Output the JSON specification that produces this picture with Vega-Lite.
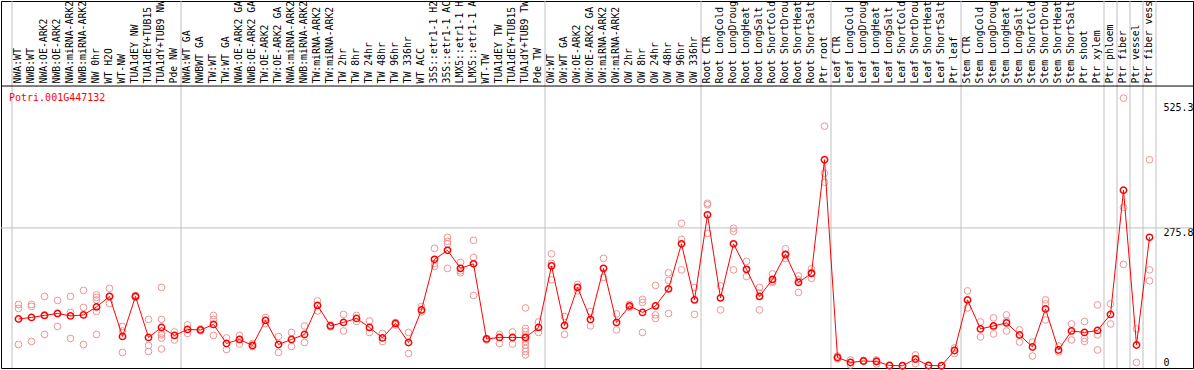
{
"$schema":"https://vega.github.io/schema/vega-lite/v6.json",
"width":1192,"height":367,
"autosize":{"type":"none"},
"padding":{"left":1,"top":1,"right":1,"bottom":2},
"background":"white",
"config":{"view":{"stroke":"#000000","strokeWidth":1},"font":"DejaVu Sans Mono"},
"datasets":{
"means":[
{"k":"NWA:WT","v":94},{"k":"NWB:WT","v":97},{"k":"NWA:OE-ARK2","v":101},{"k":"NWB:OE-ARK2","v":105},{"k":"NWA:miRNA-ARK2","v":100},{"k":"NWB:miRNA-ARK2","v":102},{"k":"NW 0hr","v":118},{"k":"WT H2O","v":139},{"k":"WT-NW","v":59},{"k":"TUA1dEY NW","v":139},{"k":"TUA1dEY+TUB15 NW","v":57},{"k":"TUA1dY+TUB9 NW","v":77},{"k":"Pde NW","v":61},
{"k":"NWA:WT GA","v":73},{"k":"NWBWT GA","v":72},{"k":"TW:WT","v":83},{"k":"TW:WT GA","v":45},{"k":"NWA:OE-ARK2 GA","v":53},{"k":"NWB:OE-ARK2 GA","v":41},{"k":"TW:OE-ARK2","v":91},{"k":"TW:OE-ARK2 GA","v":43},{"k":"NWA:miRNA-ARK2 ","v":53},{"k":"NWB:miRNA-ARK2 ","v":63},{"k":"TW:miRNA-ARK2","v":121},{"k":"TW:miRNA-ARK2 ","v":80},{"k":"TW 2hr","v":87},{"k":"TW 8hr","v":95},{"k":"TW 24hr","v":77},{"k":"TW 48hr","v":56},{"k":"TW 96hr","v":85},{"k":"TW 336hr","v":47},{"k":"WT ACC","v":112},{"k":"35S::etr1-1 H2O","v":213},{"k":"35S::etr1-1 ACC","v":231},{"k":"LMX5::etr1-1 H2O","v":195},{"k":"LMX5::etr1-1 ACC","v":204},{"k":"WT-TW","v":54},{"k":"TUA1dEY TW","v":57},{"k":"TUA1dEY+TUB15 TW","v":57},{"k":"TUA1dY+TUB9 TW","v":57},{"k":"Pde TW","v":77},
{"k":"OW:WT","v":200},{"k":"OW:WT GA","v":81},{"k":"OW:OE-ARK2","v":157},{"k":"OW:OE-ARK2 GA","v":93},{"k":"OW:miRNA-ARK2","v":195},{"k":"OW:miRNA-ARK2 ","v":87},{"k":"OW 2hr","v":120},{"k":"OW 8hr","v":107},{"k":"OW 24hr","v":120},{"k":"OW 48hr","v":154},{"k":"OW 96hr","v":244},{"k":"OW 336hr","v":132},
{"k":"Root CTR","v":302},{"k":"Root LongCold","v":136},{"k":"Root LongDrought","v":244},{"k":"Root LongHeat","v":193},{"k":"Root LongSalt","v":139},{"k":"Root ShortCold","v":173},{"k":"Root ShortDrought","v":223},{"k":"Root ShortHeat","v":167},{"k":"Root ShortSalt","v":185},{"k":"Ptr root","v":412},
{"k":"Leaf CTR","v":17},{"k":"Leaf LongCold","v":7},{"k":"Leaf LongDrought","v":10},{"k":"Leaf LongHeat","v":9},{"k":"Leaf LongSalt","v":1},{"k":"Leaf ShortCold","v":0.5},{"k":"Leaf ShortDrought","v":14},{"k":"Leaf ShortHeat","v":1},{"k":"Leaf ShortSalt","v":0.5},{"k":"Ptr leaf","v":31},
{"k":"Stem CTR","v":132},{"k":"Stem LongCold","v":74},{"k":"Stem LongDrought","v":80},{"k":"Stem LongHeat","v":86},{"k":"Stem LongSalt","v":62},{"k":"Stem ShortCold","v":38},{"k":"Stem ShortDrought","v":114},{"k":"Stem ShortHeat","v":32},{"k":"Stem ShortSalt","v":70},{"k":"Ptr shoot","v":67},{"k":"Ptr xylem","v":71},
{"k":"Ptr phloem","v":103},{"k":"Ptr fiber","v":351},{"k":"Ptr vessel","v":42},{"k":"Ptr fiber vessel","v":257}
],
"reps":[
{"k":"NWA:WT","v":123},{"k":"NWA:WT","v":115},{"k":"NWA:WT","v":43},
{"k":"NWB:WT","v":123},{"k":"NWB:WT","v":119},{"k":"NWB:WT","v":49},
{"k":"NWA:OE-ARK2","v":139},{"k":"NWA:OE-ARK2","v":63},{"k":"NWA:OE-ARK2","v":102},
{"k":"NWB:OE-ARK2","v":131},{"k":"NWB:OE-ARK2","v":79},{"k":"NWB:OE-ARK2","v":104},
{"k":"NWA:miRNA-ARK2","v":139},{"k":"NWA:miRNA-ARK2","v":107},{"k":"NWA:miRNA-ARK2","v":55},
{"k":"NWB:miRNA-ARK2","v":151},{"k":"NWB:miRNA-ARK2","v":117},{"k":"NWB:miRNA-ARK2","v":43},
{"k":"NW 0hr","v":142},{"k":"NW 0hr","v":137},{"k":"NW 0hr","v":132},{"k":"NW 0hr","v":109},{"k":"NW 0hr","v":63},
{"k":"WT H2O","v":155},{"k":"WT H2O","v":125},{"k":"WT H2O","v":139},
{"k":"WT-NW","v":79},{"k":"WT-NW","v":27},{"k":"WT-NW","v":70},
{"k":"TUA1dEY NW","v":137},{"k":"TUA1dEY NW","v":140},{"k":"TUA1dEY NW","v":141},
{"k":"TUA1dEY+TUB15 NW","v":93},{"k":"TUA1dEY+TUB15 NW","v":41},{"k":"TUA1dEY+TUB15 NW","v":29},
{"k":"TUA1dY+TUB9 NW","v":157},{"k":"TUA1dY+TUB9 NW","v":93},{"k":"TUA1dY+TUB9 NW","v":65},{"k":"TUA1dY+TUB9 NW","v":56},{"k":"TUA1dY+TUB9 NW","v":34},{"k":"TUA1dY+TUB9 NW","v":62},
{"k":"Pde NW","v":68},{"k":"Pde NW","v":52},
{"k":"NWA:WT GA","v":82},{"k":"NWA:WT GA","v":65},
{"k":"NWBWT GA","v":70},{"k":"NWBWT GA","v":74},
{"k":"TW:WT","v":101},{"k":"TW:WT","v":93},{"k":"TW:WT","v":61},
{"k":"TW:WT GA","v":56},{"k":"TW:WT GA","v":33},
{"k":"NWA:OE-ARK2 GA","v":61},{"k":"NWA:OE-ARK2 GA","v":44},
{"k":"NWB:OE-ARK2 GA","v":45},{"k":"NWB:OE-ARK2 GA","v":39},
{"k":"TW:OE-ARK2","v":97},{"k":"TW:OE-ARK2","v":85},
{"k":"TW:OE-ARK2 GA","v":59},{"k":"TW:OE-ARK2 GA","v":27},
{"k":"NWA:miRNA-ARK2 ","v":67},{"k":"NWA:miRNA-ARK2 ","v":39},
{"k":"NWB:miRNA-ARK2 ","v":80},{"k":"NWB:miRNA-ARK2 ","v":47},
{"k":"TW:miRNA-ARK2","v":130},{"k":"TW:miRNA-ARK2","v":110},
{"k":"TW:miRNA-ARK2 ","v":78},{"k":"TW:miRNA-ARK2 ","v":82},
{"k":"TW 2hr","v":103},{"k":"TW 2hr","v":70},
{"k":"TW 8hr","v":101},{"k":"TW 8hr","v":89},
{"k":"TW 24hr","v":90},{"k":"TW 24hr","v":67},
{"k":"TW 48hr","v":65},{"k":"TW 48hr","v":49},
{"k":"TW 96hr","v":82},{"k":"TW 96hr","v":87},
{"k":"TW 336hr","v":67},{"k":"TW 336hr","v":25},
{"k":"WT ACC","v":119},{"k":"WT ACC","v":108},
{"k":"35S::etr1-1 H2O","v":235},{"k":"35S::etr1-1 H2O","v":205},{"k":"35S::etr1-1 H2O","v":199},
{"k":"35S::etr1-1 ACC","v":257},{"k":"35S::etr1-1 ACC","v":249},{"k":"35S::etr1-1 ACC","v":244},{"k":"35S::etr1-1 ACC","v":195},
{"k":"LMX5::etr1-1 H2O","v":207},{"k":"LMX5::etr1-1 H2O","v":190},{"k":"LMX5::etr1-1 H2O","v":186},
{"k":"LMX5::etr1-1 ACC","v":251},{"k":"LMX5::etr1-1 ACC","v":217},{"k":"LMX5::etr1-1 ACC","v":141},
{"k":"WT-TW","v":52},{"k":"WT-TW","v":55},
{"k":"TUA1dEY TW","v":63},{"k":"TUA1dEY TW","v":45},
{"k":"TUA1dEY+TUB15 TW","v":68},{"k":"TUA1dEY+TUB15 TW","v":44},
{"k":"TUA1dY+TUB9 TW","v":116},{"k":"TUA1dY+TUB9 TW","v":75},{"k":"TUA1dY+TUB9 TW","v":69},{"k":"TUA1dY+TUB9 TW","v":62},{"k":"TUA1dY+TUB9 TW","v":55},{"k":"TUA1dY+TUB9 TW","v":49},{"k":"TUA1dY+TUB9 TW","v":42},{"k":"TUA1dY+TUB9 TW","v":35},{"k":"TUA1dY+TUB9 TW","v":29},{"k":"TUA1dY+TUB9 TW","v":22},
{"k":"Pde TW","v":88},{"k":"Pde TW","v":67},
{"k":"OW:WT","v":224},{"k":"OW:WT","v":205},{"k":"OW:WT","v":172},
{"k":"OW:WT GA","v":99},{"k":"OW:WT GA","v":63},
{"k":"OW:OE-ARK2","v":150},{"k":"OW:OE-ARK2","v":163},
{"k":"OW:OE-ARK2 GA","v":109},{"k":"OW:OE-ARK2 GA","v":80},
{"k":"OW:miRNA-ARK2","v":215},{"k":"OW:miRNA-ARK2","v":177},
{"k":"OW:miRNA-ARK2 ","v":104},{"k":"OW:miRNA-ARK2 ","v":72},
{"k":"OW 2hr","v":123},{"k":"OW 2hr","v":117},
{"k":"OW 8hr","v":133},{"k":"OW 8hr","v":127},{"k":"OW 8hr","v":67},
{"k":"OW 24hr","v":161},{"k":"OW 24hr","v":102},{"k":"OW 24hr","v":95},
{"k":"OW 48hr","v":186},{"k":"OW 48hr","v":171},{"k":"OW 48hr","v":105},
{"k":"OW 96hr","v":285},{"k":"OW 96hr","v":253},{"k":"OW 96hr","v":192},
{"k":"OW 336hr","v":157},{"k":"OW 336hr","v":103},
{"k":"Root CTR","v":325},{"k":"Root CTR","v":322},{"k":"Root CTR","v":265},
{"k":"Root LongCold","v":160},{"k":"Root LongCold","v":112},
{"k":"Root LongDrought","v":275},{"k":"Root LongDrought","v":269},{"k":"Root LongDrought","v":192},
{"k":"Root LongHeat","v":209},{"k":"Root LongHeat","v":179},
{"k":"Root LongSalt","v":157},{"k":"Root LongSalt","v":112},{"k":"Root LongSalt","v":146},
{"k":"Root ShortCold","v":184},{"k":"Root ShortCold","v":167},{"k":"Root ShortCold","v":169},
{"k":"Root ShortDrought","v":234},{"k":"Root ShortDrought","v":215},{"k":"Root ShortDrought","v":221},
{"k":"Root ShortHeat","v":180},{"k":"Root ShortHeat","v":147},{"k":"Root ShortHeat","v":172},
{"k":"Root ShortSalt","v":194},{"k":"Root ShortSalt","v":175},{"k":"Root ShortSalt","v":187},
{"k":"Ptr root","v":479},{"k":"Ptr root","v":385},{"k":"Ptr root","v":367},
{"k":"Leaf CTR","v":14},{"k":"Leaf CTR","v":20},
{"k":"Leaf LongCold","v":12},{"k":"Leaf LongCold","v":2},
{"k":"Leaf LongDrought","v":9},{"k":"Leaf LongDrought","v":11},
{"k":"Leaf LongHeat","v":12},{"k":"Leaf LongHeat","v":4},{"k":"Leaf LongHeat","v":10},
{"k":"Leaf LongSalt","v":1},{"k":"Leaf LongSalt","v":0.5},
{"k":"Leaf ShortCold","v":0.5},{"k":"Leaf ShortCold","v":0.2},
{"k":"Leaf ShortDrought","v":22},{"k":"Leaf ShortDrought","v":5},{"k":"Leaf ShortDrought","v":14},
{"k":"Leaf ShortHeat","v":0.5},{"k":"Leaf ShortHeat","v":1},
{"k":"Leaf ShortSalt","v":0.2},{"k":"Leaf ShortSalt","v":0.5},
{"k":"Ptr leaf","v":36},{"k":"Ptr leaf","v":25},
{"k":"Stem CTR","v":150},{"k":"Stem CTR","v":116},
{"k":"Stem LongCold","v":88},{"k":"Stem LongCold","v":58},
{"k":"Stem LongDrought","v":96},{"k":"Stem LongDrought","v":78},{"k":"Stem LongDrought","v":64},
{"k":"Stem LongHeat","v":102},{"k":"Stem LongHeat","v":90},{"k":"Stem LongHeat","v":70},
{"k":"Stem LongSalt","v":72},{"k":"Stem LongSalt","v":48},
{"k":"Stem ShortCold","v":48},{"k":"Stem ShortCold","v":20},
{"k":"Stem ShortDrought","v":132},{"k":"Stem ShortDrought","v":124},{"k":"Stem ShortDrought","v":92},
{"k":"Stem ShortHeat","v":40},{"k":"Stem ShortHeat","v":28},
{"k":"Stem ShortSalt","v":84},{"k":"Stem ShortSalt","v":52},
{"k":"Ptr shoot","v":89},{"k":"Ptr shoot","v":55},{"k":"Ptr shoot","v":49},
{"k":"Ptr xylem","v":122},{"k":"Ptr xylem","v":62},{"k":"Ptr xylem","v":32},
{"k":"Ptr phloem","v":124},{"k":"Ptr phloem","v":84},
{"k":"Ptr fiber","v":535},{"k":"Ptr fiber","v":317},{"k":"Ptr fiber","v":203},
{"k":"Ptr vessel","v":74},{"k":"Ptr vessel","v":7},
{"k":"Ptr fiber vessel","v":412},{"k":"Ptr fiber vessel","v":192},{"k":"Ptr fiber vessel","v":170}
],
"seps":[{"k":"NWA:WT"},{"k":"NWA:WT GA"},{"k":"OW:WT"},{"k":"Root CTR"},{"k":"Leaf CTR"},{"k":"Stem CTR"},{"k":"Ptr phloem"},{"k":"Ptr fiber"},{"k":"Ptr vessel"},{"k":"Ptr fiber vessel"}],
"lastsep":[{"k":"Ptr fiber vessel"}],
"hlines":[{"v":275.8}],
"header":[{"v":559.2}],
"gene":[{"k":"NWA:WT","v":529.3,"label":"Potri.001G447132"}]
},
"resolve":{"axis":{"x":"independent","y":"independent"}},
"layer":[
{"data":{"name":"seps"},"mark":{"type":"rule","color":"#c0c0c0","strokeWidth":1},
 "encoding":{"x":{"field":"k","type":"nominal","bandPosition":0,
   "scale":{"domain":["NWA:WT","NWB:WT","NWA:OE-ARK2","NWB:OE-ARK2","NWA:miRNA-ARK2","NWB:miRNA-ARK2","NW 0hr","WT H2O","WT-NW","TUA1dEY NW","TUA1dEY+TUB15 NW","TUA1dY+TUB9 NW","Pde NW","NWA:WT GA","NWBWT GA","TW:WT","TW:WT GA","NWA:OE-ARK2 GA","NWB:OE-ARK2 GA","TW:OE-ARK2","TW:OE-ARK2 GA","NWA:miRNA-ARK2 ","NWB:miRNA-ARK2 ","TW:miRNA-ARK2","TW:miRNA-ARK2 ","TW 2hr","TW 8hr","TW 24hr","TW 48hr","TW 96hr","TW 336hr","WT ACC","35S::etr1-1 H2O","35S::etr1-1 ACC","LMX5::etr1-1 H2O","LMX5::etr1-1 ACC","WT-TW","TUA1dEY TW","TUA1dEY+TUB15 TW","TUA1dY+TUB9 TW","Pde TW","OW:WT","OW:WT GA","OW:OE-ARK2","OW:OE-ARK2 GA","OW:miRNA-ARK2","OW:miRNA-ARK2 ","OW 2hr","OW 8hr","OW 24hr","OW 48hr","OW 96hr","OW 336hr","Root CTR","Root LongCold","Root LongDrought","Root LongHeat","Root LongSalt","Root ShortCold","Root ShortDrought","Root ShortHeat","Root ShortSalt","Ptr root","Leaf CTR","Leaf LongCold","Leaf LongDrought","Leaf LongHeat","Leaf LongSalt","Leaf ShortCold","Leaf ShortDrought","Leaf ShortHeat","Leaf ShortSalt","Ptr leaf","Stem CTR","Stem LongCold","Stem LongDrought","Stem LongHeat","Stem LongSalt","Stem ShortCold","Stem ShortDrought","Stem ShortHeat","Stem ShortSalt","Ptr shoot","Ptr xylem","Ptr phloem","Ptr fiber","Ptr vessel","Ptr fiber vessel"],
    "range":[11,1155],"paddingInner":0,"paddingOuter":0},
   "axis":null}}},
{"data":{"name":"lastsep"},"mark":{"type":"rule","color":"#c0c0c0","strokeWidth":1},
 "encoding":{"x":{"field":"k","type":"nominal","bandPosition":1,"axis":null}}},
{"data":{"name":"hlines"},"mark":{"type":"rule","color":"#c0c0c0","strokeWidth":1},
 "encoding":{"y":{"field":"v","type":"quantitative","axis":null,"scale":{"domain":[-4,729],"nice":false,"zero":false}}}},
{"data":{"name":"header"},"mark":{"type":"rule","color":"#000000","strokeWidth":1},
 "encoding":{"y":{"field":"v","type":"quantitative","axis":null}}},
{"data":{"name":"reps"},"mark":{"type":"point","shape":"circle","filled":false,"color":"#ee9595","size":45,"strokeWidth":1,"opacity":1},
 "encoding":{"x":{"field":"k","type":"nominal","axis":null},"y":{"field":"v","type":"quantitative","axis":null}}},
{"data":{"name":"means"},"mark":{"type":"line","color":"#ff0000","strokeWidth":1},
 "encoding":{"x":{"field":"k","type":"nominal","axis":null},"y":{"field":"v","type":"quantitative","axis":null},"order":{"value":null}}},
{"data":{"name":"means"},"mark":{"type":"point","shape":"circle","filled":false,"color":"#ff0000","size":40,"strokeWidth":1.5,"opacity":1},
 "encoding":{
  "x":{"field":"k","type":"nominal",
   "axis":{"orient":"top","offset":-85,"title":null,"domain":false,"ticks":false,"tickSize":0,"grid":false,"labelAngle":270,"labelAlign":"left","labelBaseline":"middle","labelPadding":3,"labelOffset":-1,"labelFont":"DejaVu Sans Mono","labelFontSize":9.8,"labelColor":"#000000","labelOverlap":false,"labelLimit":300,"labelExpr":"slice(datum.label, 0, 14)"}},
  "y":{"field":"v","type":"quantitative",
   "axis":{"orient":"right","offset":-31,"title":null,"domain":false,"ticks":false,"tickSize":0,"grid":false,"values":[0,275.8,525.3],"labelExpr":"toString(datum.value)","labelAlign":"left","labelPadding":1,"labelFont":"DejaVu Sans Mono","labelFontSize":10,"labelColor":"#000000","labelBaseline":{"condition":{"test":"datum.value == 0","value":"alphabetic"},"value":"top"},"labelOverlap":false}}
 }},
{"data":{"name":"gene"},"mark":{"type":"text","color":"#ff0000","font":"DejaVu Sans Mono","fontSize":10,"align":"left","baseline":"alphabetic","dx":-3},
 "encoding":{"x":{"field":"k","type":"nominal","bandPosition":0,"axis":null},"y":{"field":"v","type":"quantitative","axis":null},"text":{"field":"label"}}}
]
}
